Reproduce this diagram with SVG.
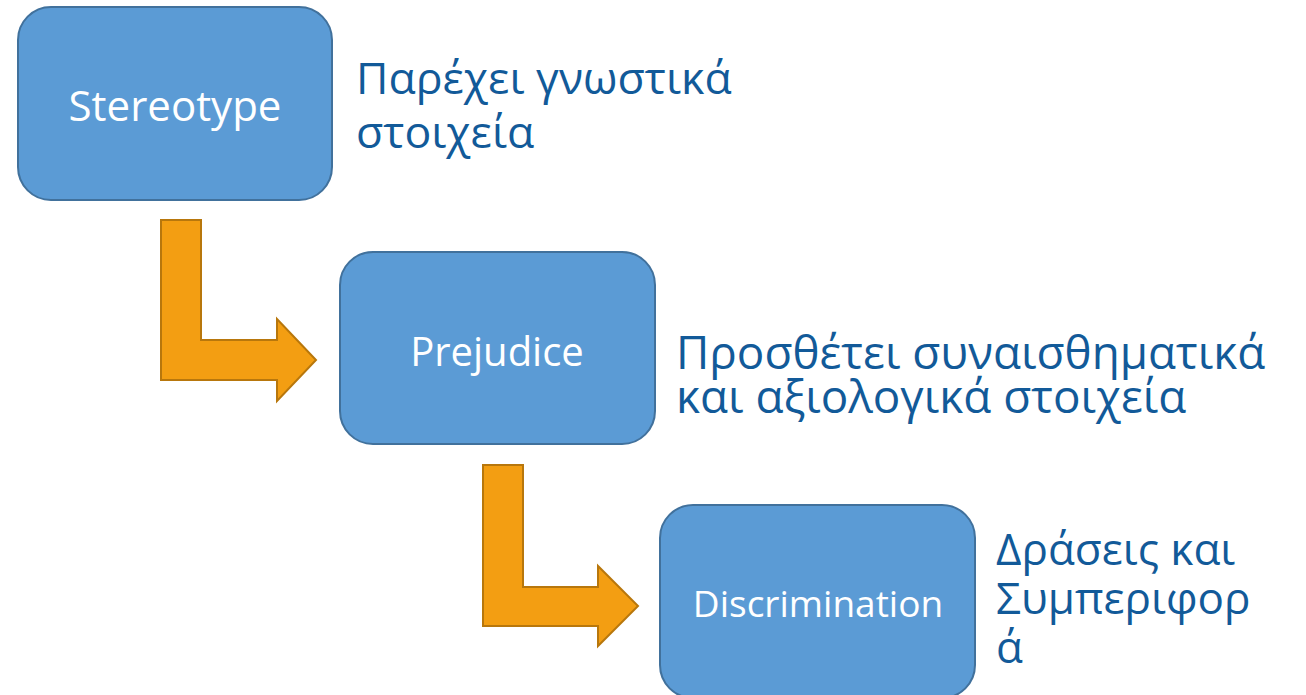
<svg xmlns="http://www.w3.org/2000/svg" width="1306" height="695" viewBox="0 0 1306 695">
<style>
.box{fill:#5B9BD5;stroke:#41719C;stroke-width:2}
.arr{fill:#F39E12;stroke:#B8770C;stroke-width:2}
.lbl{font-family:"Open Sans","Noto Sans",sans-serif;fill:#FFFFFF;text-anchor:middle}
.note{font-family:"Open Sans","Noto Sans",sans-serif;fill:#125A99}
</style>
<rect width="1306" height="695" fill="#FFFFFF"/>
<g id="connectors">
<polygon class="arr" points="161,220 201,220 201,340 277,340 277,319 316,360 277,401 277,380 161,380"/>
<polygon class="arr" points="483,465 523,465 523,587 598,587 598,566 638,606 598,646 598,626 483,626"/>
</g>
<g id="stereotype">
<rect class="box" x="18" y="7" width="314" height="193" rx="33"/>
<text class="lbl" x="175" y="121" font-size="42">Stereotype</text>
</g>
<g id="prejudice">
<rect class="box" x="340" y="252" width="315" height="192" rx="33"/>
<text class="lbl" x="497" y="366" font-size="40">Prejudice</text>
</g>
<g id="discrimination">
<rect class="box" x="660" y="505" width="315" height="193" rx="33"/>
<text class="lbl" x="818" y="617" font-size="37">Discrimination</text>
</g>
<g id="note1" font-size="44.6">
<text class="note" x="356" y="94">Παρέχει γνωστικά</text>
<text class="note" x="356" y="148">στοιχεία</text>
</g>
<g id="note2" font-size="45.8">
<text class="note" x="676" y="369">Προσθέτει συναισθηματικά</text>
<text class="note" x="676" y="413">και αξιολογικά στοιχεία</text>
</g>
<g id="note3" font-size="44">
<text class="note" x="996" y="565">Δράσεις και</text>
<text class="note" x="996" y="614">Συμπεριφορ</text>
<text class="note" x="996" y="663">ά</text>
</g>
</svg>
